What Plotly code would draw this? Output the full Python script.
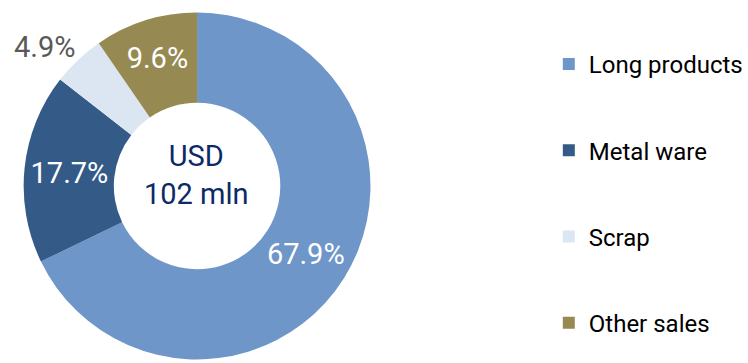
import plotly.graph_objects as go

categories = ["Long products", "Metal ware", "Scrap", "Other sales"]
values = [67.9, 17.7, 4.9, 9.6]
labels_text = ["67.9%", "17.7%", "4.9%", "9.6%"]
colors = ["#6f96c9", "#345a88", "#dce6f2", "#968a52"]
text_colors = ["#ffffff", "#ffffff", "#595959", "#ffffff"]

FONT = "Roboto, Open Sans, sans-serif"

# Small slice's label is placed outside the ring (like the original), others inside
inside_text = [t if c != "Scrap" else "" for t, c in zip(labels_text, categories)]

fig = go.Figure()
fig.add_trace(go.Pie(
    labels=categories, values=values, text=inside_text, textinfo="text",
    textposition="inside", insidetextorientation="horizontal",
    textfont=dict(family=FONT, size=29, color=text_colors),
    marker=dict(colors=colors, line=dict(width=0)),
    hole=0.48, sort=False, direction="clockwise", rotation=0,
    domain=dict(x=[24/748, 376/748], y=[1/363, 353/363]),
    showlegend=False, hoverinfo="label+percent",
))
for name, col in zip(categories, colors):
    fig.add_trace(go.Scatter(
        x=[None], y=[None], mode="markers", name=name, legendgroup=name,
        marker=dict(symbol="square", size=15, color=col),
    ))

scrap_idx = categories.index("Scrap")
fig.add_annotation(
    text=labels_text[scrap_idx], x=45/748, y=1-47/363, xref="paper", yref="paper",
    xanchor="center", yanchor="middle", showarrow=False,
    font=dict(family=FONT, size=29, color=text_colors[scrap_idx]),
)
fig.add_annotation(
    text="USD<br>102 mln", x=199/748, y=1-175/363, xref="paper", yref="paper",
    xanchor="center", yanchor="middle",
    showarrow=False, font=dict(family=FONT, size=29, color="#0c2a66"),
)

fig.update_layout(
    width=748, height=363,
    margin=dict(l=0, r=0, t=0, b=0),
    paper_bgcolor="white", plot_bgcolor="white",
    xaxis=dict(visible=False), yaxis=dict(visible=False),
    legend=dict(x=557/748, y=1-42/363, xanchor="left", yanchor="top",
                font=dict(family=FONT, size=24, color="#000000"),
                tracegroupgap=52, itemsizing="constant"),
)

fig.write_html("out.html")
